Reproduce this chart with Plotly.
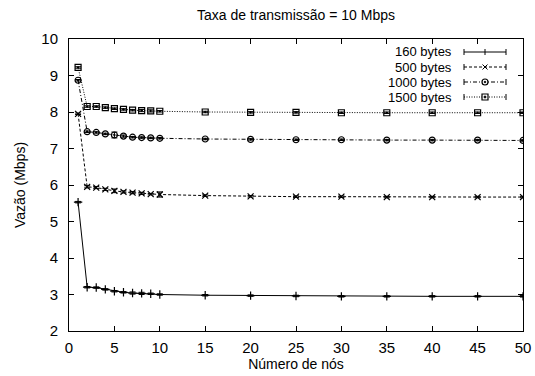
import plotly.graph_objects as go

nodes = [1, 2, 3, 4, 5, 6, 7, 8, 9, 10, 15, 20, 25, 30, 35, 40, 45, 50]

v160 = [5.53, 3.20, 3.19, 3.14, 3.09, 3.06, 3.04, 3.03, 3.02, 3.00, 2.98, 2.97, 2.96, 2.95, 2.95, 2.95, 2.95, 2.95]
e160 = [0.02, 0.02, 0.02, 0.02, 0.02, 0.02, 0.03, 0.03, 0.02, 0.02, 0.02, 0.02, 0.02, 0.02, 0.02, 0.02, 0.02, 0.02]

v500 = [7.95, 5.95, 5.93, 5.88, 5.84, 5.81, 5.79, 5.77, 5.75, 5.74, 5.71, 5.69, 5.68, 5.68, 5.67, 5.67, 5.67, 5.67]
e500 = [0.02, 0.03, 0.03, 0.03, 0.05, 0.03, 0.03, 0.03, 0.02, 0.07, 0.02, 0.02, 0.02, 0.02, 0.02, 0.02, 0.02, 0.02]

v1000 = [8.87, 7.46, 7.44, 7.40, 7.37, 7.34, 7.31, 7.30, 7.29, 7.28, 7.26, 7.25, 7.24, 7.24, 7.23, 7.23, 7.23, 7.22]
e1000 = [0.02, 0.02, 0.02, 0.02, 0.08, 0.03, 0.02, 0.02, 0.02, 0.02, 0.02, 0.02, 0.02, 0.02, 0.02, 0.02, 0.02, 0.02]

v1500 = [9.22, 8.15, 8.15, 8.12, 8.09, 8.07, 8.05, 8.04, 8.03, 8.02, 8.00, 7.99, 7.99, 7.98, 7.98, 7.98, 7.98, 7.98]
e1500 = [0.02, 0.02, 0.02, 0.02, 0.02, 0.02, 0.02, 0.03, 0.03, 0.02, 0.02, 0.02, 0.02, 0.02, 0.02, 0.02, 0.02, 0.02]

x_ticks = [0, 5, 10, 15, 20, 25, 30, 35, 40, 45, 50]
y_ticks = [2, 3, 4, 5, 6, 7, 8, 9, 10]

names = ["160 bytes", "500 bytes", "1000 bytes", "1500 bytes"]
series = [v160, v500, v1000, v1500]
errors = [e160, e500, e1000, e1500]
dashes = ["solid", "3px,2px", "4px,2px,1px,2px", "1px,1.5px"]
symbols = ["cross-thin-open", "x-thin-open", "circle-open-dot", "square-open-dot"]

W, H = 535, 376
L, R, T, B = 69, 12, 39, 45
pw, ph = W - L - R, H - T - B

def px2x(px):
    return (px - L) / pw

def py2y(py):
    return (H - B - py) / ph

fig = go.Figure()
for name, ys, es, d, s in zip(names, series, errors, dashes, symbols):
    fig.add_trace(go.Scatter(
        x=nodes, y=ys, name=name, mode="lines+markers", showlegend=False,
        line=dict(color="black", width=1, dash=d),
        marker=dict(symbol=s, size=6, color="black", line=dict(color="black", width=1.2)),
        error_y=dict(type="data", array=es, visible=True, color="black", thickness=1, width=3),
    ))

# gnuplot-style key: right-aligned text, sample line to its right
shapes = []
annotations = []
rows = [52, 67, 82, 97]
text_right, s0, s1 = 453, 464, 506
mid = (s0 + s1) / 2

def seg(x0, y0, x1, y1, w=1, dash="solid"):
    return dict(type="line", xref="paper", yref="paper", x0=px2x(x0), x1=px2x(x1),
                y0=py2y(y0), y1=py2y(y1), line=dict(color="black", width=w, dash=dash))

for name, d, s, ry in zip(names, dashes, symbols, rows):
    annotations.append(dict(text=name, xref="paper", yref="paper", x=px2x(text_right), y=py2y(ry),
                            xanchor="right", yanchor="middle", showarrow=False, borderpad=0,
                            font=dict(size=13)))
    shapes.append(seg(s0, ry, s1, ry, 1, d))
    for cx in (s0, s1):
        shapes.append(seg(cx, ry - 3, cx, ry + 3))
    if s.startswith("cross"):
        shapes.append(seg(mid, ry - 3, mid, ry + 3))
    elif s.startswith("x"):
        shapes.append(seg(mid - 2.5, ry - 2.5, mid + 2.5, ry + 2.5))
        shapes.append(seg(mid - 2.5, ry + 2.5, mid + 2.5, ry - 2.5))
    else:
        kind = "circle" if s.startswith("circle") else "rect"
        shapes.append(dict(type=kind, xref="paper", yref="paper", x0=px2x(mid - 3), x1=px2x(mid + 3),
                           y0=py2y(ry - 3), y1=py2y(ry + 3), line=dict(color="black", width=1.2),
                           fillcolor="white"))
        shapes.append(dict(type=kind, xref="paper", yref="paper", x0=px2x(mid - 0.8), x1=px2x(mid + 0.8),
                           y0=py2y(ry - 0.8), y1=py2y(ry + 0.8), line=dict(color="black", width=1),
                           fillcolor="black"))

font = "Liberation Sans, Arial, sans-serif"
fig.update_layout(
    width=W, height=H,
    margin=dict(l=L, r=R, t=T, b=B, autoexpand=False),
    paper_bgcolor="white", plot_bgcolor="white",
    font=dict(family=font, size=13, color="black"),
    title=dict(text="Taxa de transmissão = 10 Mbps", x=0.5, xanchor="center", xref="paper",
               y=1 - 15 / H, yanchor="middle", font=dict(size=14)),
    showlegend=False,
    shapes=shapes,
    annotations=annotations,
)
fig.update_xaxes(
    range=[0, 50], tickvals=x_ticks, automargin=False,
    showline=True, linecolor="black", linewidth=1, mirror="allticks",
    ticks="inside", ticklen=5, tickcolor="black", showgrid=False, zeroline=False,
    tickfont=dict(size=15), ticklabelstandoff=3,
    title=dict(text="Número de nós", font=dict(size=14), standoff=4),
)
fig.update_yaxes(
    range=[2, 10], tickvals=y_ticks, automargin=False,
    showline=True, linecolor="black", linewidth=1, mirror="allticks",
    ticks="inside", ticklen=5, tickcolor="black", showgrid=False, zeroline=False,
    tickfont=dict(size=15), ticklabelstandoff=7,
    title=dict(text="Vazão (Mbps)", font=dict(size=14), standoff=12),
)
fig.write_html("out.html")
